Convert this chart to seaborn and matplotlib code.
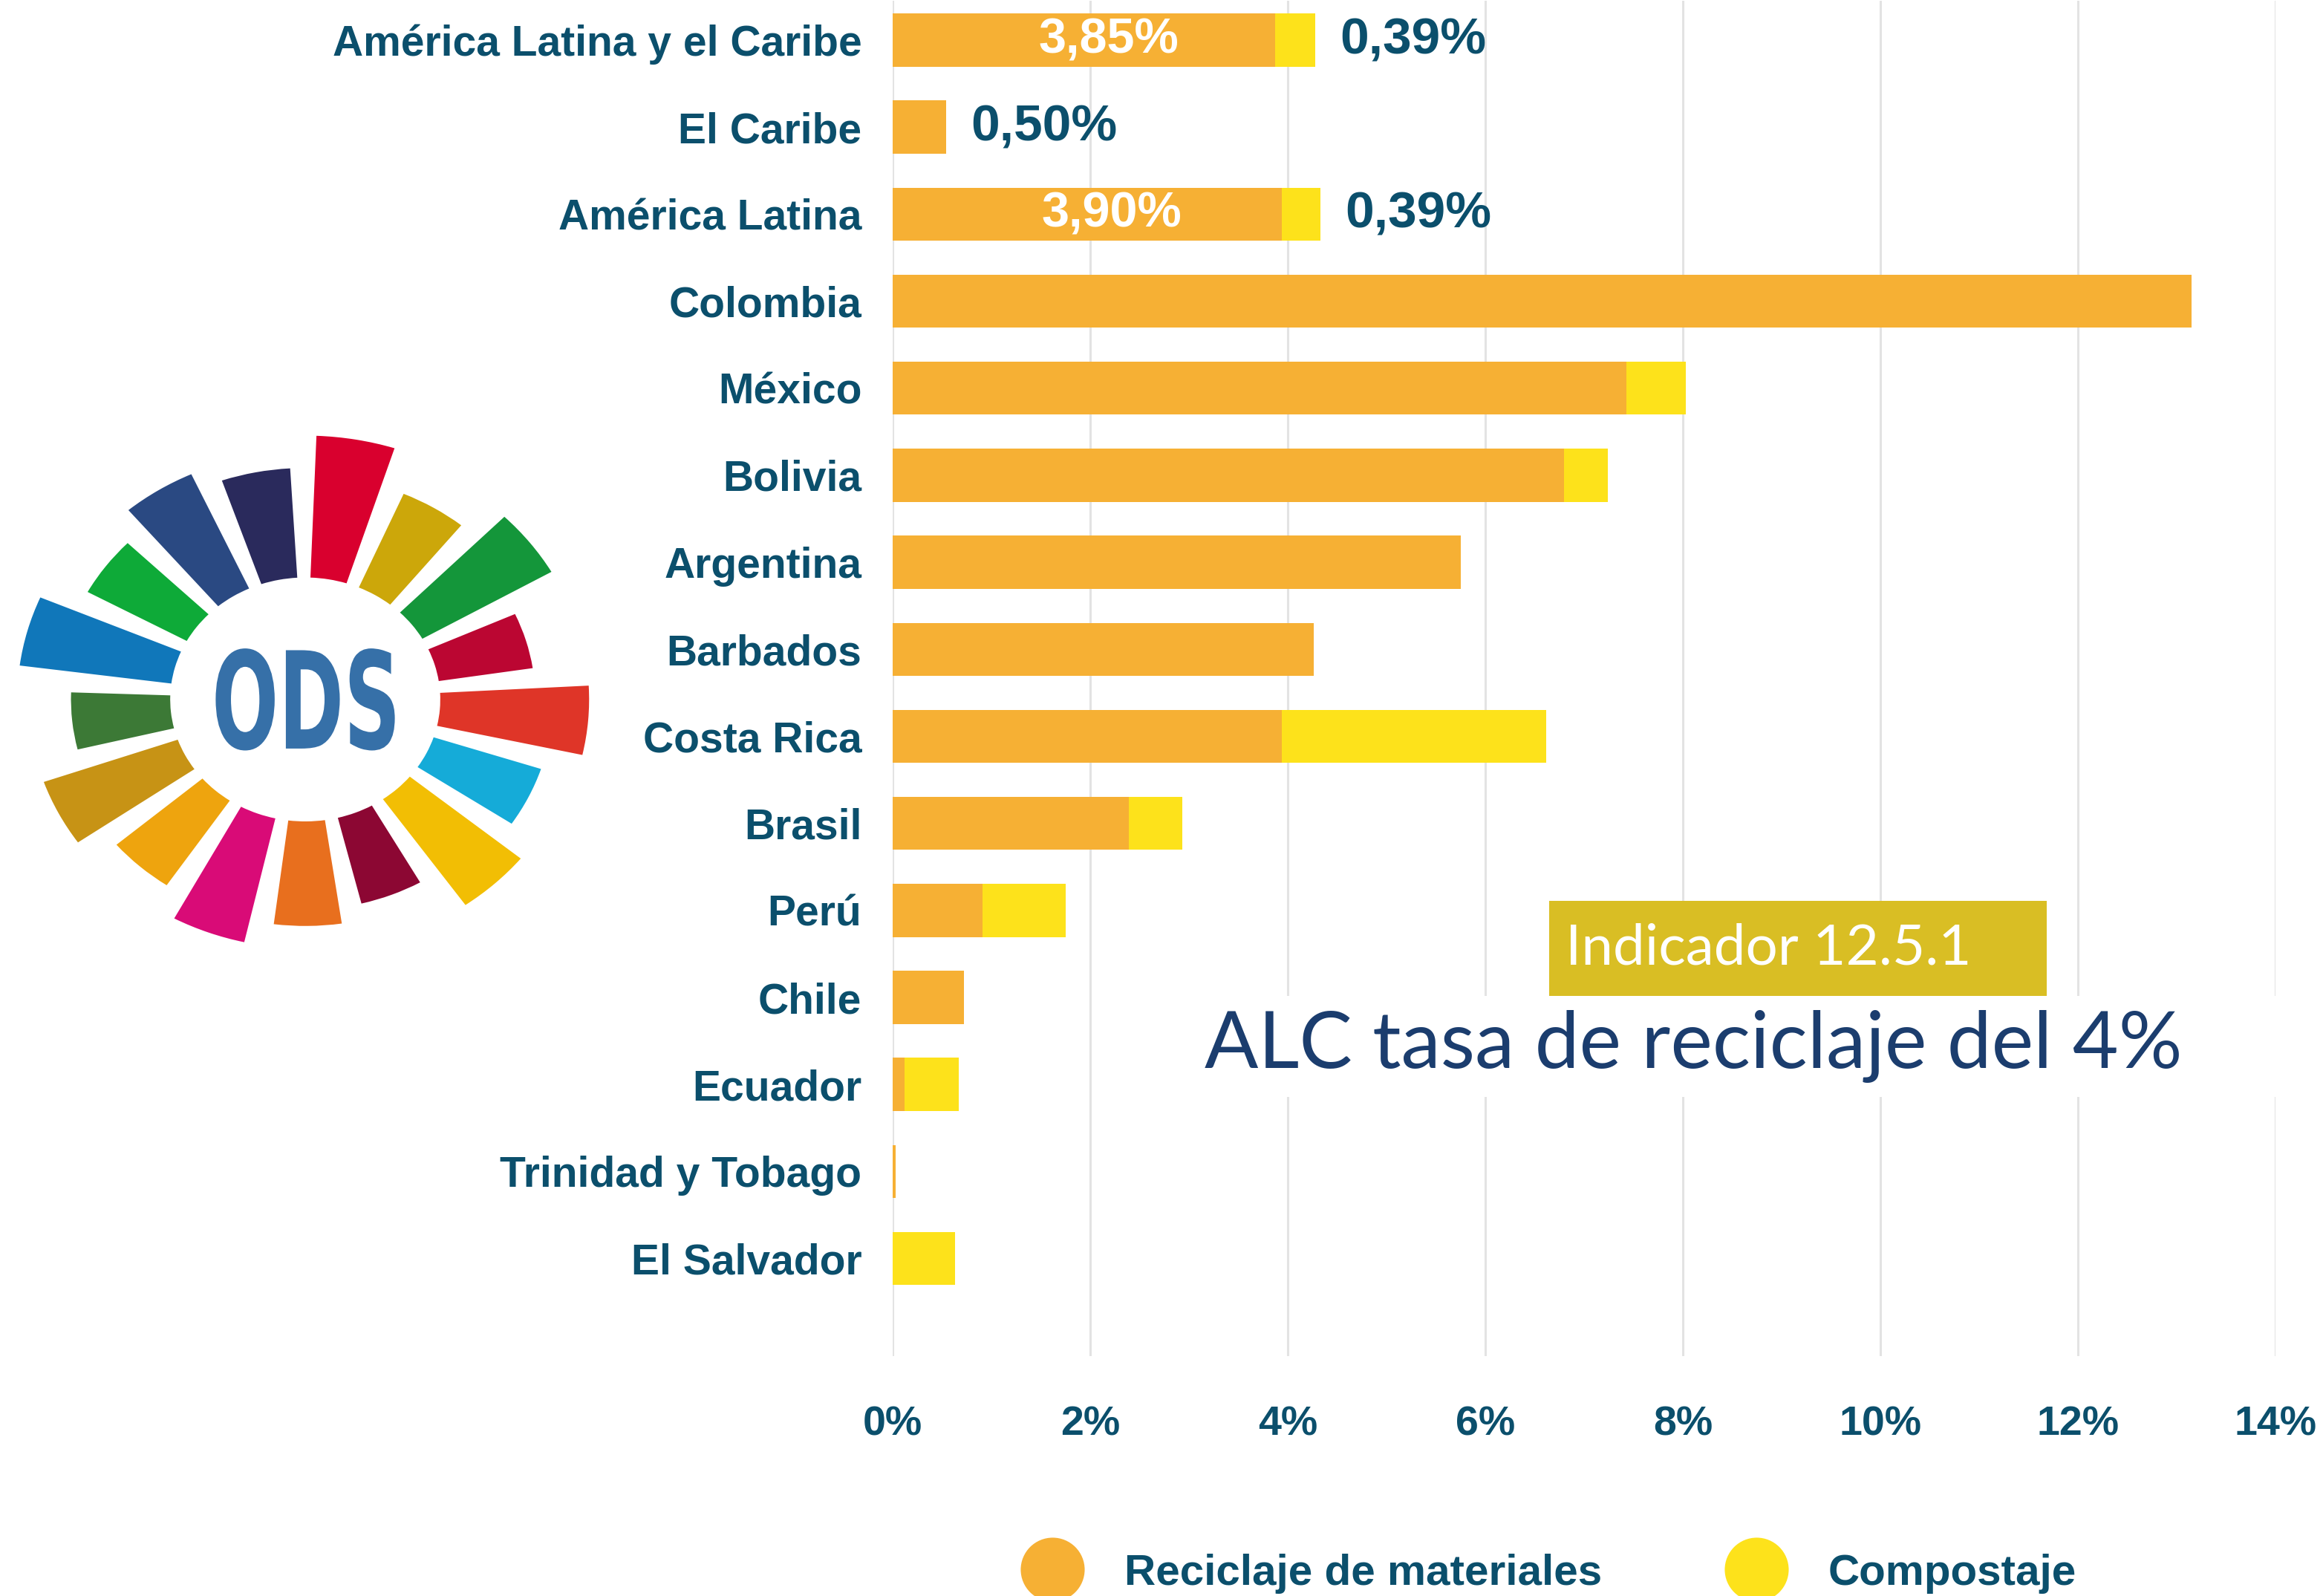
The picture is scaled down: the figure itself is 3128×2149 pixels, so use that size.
import numpy as np
import pandas as pd
import matplotlib
matplotlib.use('Agg')
import matplotlib.pyplot as plt
import seaborn as sns
from matplotlib.patches import Wedge, Rectangle, PathPatch
from matplotlib.textpath import TextPath
from matplotlib.font_manager import FontProperties
from matplotlib.lines import Line2D
from matplotlib.transforms import Affine2D

# datos
paises = ['América Latina y el Caribe', 'El Caribe', 'América Latina', 'Colombia', 'México',
          'Bolivia', 'Argentina', 'Barbados', 'Costa Rica', 'Brasil', 'Perú', 'Chile',
          'Ecuador', 'Trinidad y Tobago', 'El Salvador']
reciclaje = [3.87, 0.54, 3.94, 13.15, 7.43, 6.80, 5.75, 4.26, 3.94, 2.39, 0.91, 0.72, 0.12, 0.03, 0.0]
compostaje = [0.41, 0.0, 0.39, 0.0, 0.60, 0.44, 0.0, 0.0, 2.68, 0.54, 0.84, 0.0, 0.55, 0.0, 0.63]
etiqueta_dentro = ['3,85%', '', '3,90%'] + [''] * 12
etiqueta_fuera = ['0,39%', '0,50%', '0,39%'] + [''] * 12
ticks = [0, 2, 4, 6, 8, 10, 12, 14]
tick_labels = ['0%', '2%', '4%', '6%', '8%', '10%', '12%', '14%']
series = ['Reciclaje de materiales', 'Compostaje']

# logo ODS
ods_colores = ['#D9002E', '#CCA70A', '#14963A', '#BB0632', '#DF3528', '#15ABD8', '#F2BE04',
               '#8C0733', '#E86F1E', '#D90B77', '#EEA40E', '#C79315', '#3C7936', '#1077BA',
               '#0EAA38', '#2A4982', '#2A2A5C']
ods_radios = [2.12, 1.80, 2.06, 1.67, 2.06, 1.80, 2.02, 1.69, 1.82, 2.0, 1.80, 2.01, 1.70,
              2.09, 1.80, 1.99, 1.86]

naranja = '#F6B034'
amarillo = '#FDE21B'
texto = '#0B4F6C'

df = pd.DataFrame({'pais': paises, 'reciclaje': reciclaje, 'compostaje': compostaje})
df['total'] = df['reciclaje'] + df['compostaje']

sns.set_style('white')
plt.rcParams['font.family'] = ['Liberation Sans', 'DejaVu Sans']

fig = plt.figure(figsize=(15.64, 10.745), dpi=200)
ax = fig.add_axes([0.3843, 0.1504, 0.5952, 0.849])

sns.barplot(data=df, y='pais', x='total', color=amarillo, orient='h', width=0.61,
            saturation=1, errorbar=None, linewidth=0, edgecolor='none', ax=ax)
sns.barplot(data=df, y='pais', x='reciclaje', color=naranja, orient='h', width=0.61,
            saturation=1, errorbar=None, linewidth=0, edgecolor='none', ax=ax)

ax.set_xlim(0, 14)
ax.set_ylim(14 + 1.12, -0.45)
ax.set_xlabel('')
ax.set_ylabel('')
ax.xaxis.grid(True, color='#e3e3e3', lw=1.1)
ax.yaxis.grid(False)
ax.set_axisbelow(True)
for s in ax.spines.values():
    s.set_visible(False)
ax.set_xticks(ticks)
ax.set_xticklabels(tick_labels, fontsize=20, fontweight='bold', color=texto)
ax.tick_params(axis='x', length=0, pad=24)
ax.tick_params(axis='y', length=0, pad=15)
for lab in ax.get_yticklabels():
    lab.set_fontsize(20.5)
    lab.set_fontweight('bold')
    lab.set_color(texto)

for i in range(len(paises)):
    if etiqueta_dentro[i]:
        ax.text(reciclaje[i] / 2 + 0.25, i, etiqueta_dentro[i], color='white', fontsize=24,
                fontweight='bold', ha='center', va='center')
    if etiqueta_fuera[i]:
        ax.text(reciclaje[i] + compostaje[i] + 0.25, i, etiqueta_fuera[i], color=texto,
                fontsize=25, fontweight='bold', ha='left', va='center')

# leyenda
handles = [Line2D([], [], marker='o', ls='', markersize=31, markerfacecolor=c, markeredgewidth=0)
           for c in [naranja, amarillo]]
fig.legend(handles, series, loc='center', bbox_to_anchor=(0.666, 0.014), ncol=2, frameon=False,
           prop={'size': 21, 'weight': 'bold'}, labelcolor=texto, handlelength=1.6,
           handletextpad=0.86, columnspacing=2.76, borderpad=0)

# recuadros de texto
fig.add_artist(Rectangle((0.4974, 0.3129), 0.4876, 0.0631, transform=fig.transFigure,
                         facecolor='white', edgecolor='none', zorder=2))
fig.add_artist(Rectangle((0.667, 0.376), 0.214, 0.0595, transform=fig.transFigure,
                         facecolor='#D9BE24', edgecolor='none', zorder=2))
fig.text(0.674, 0.4058, 'Indicador 12.5.1', color='white', fontsize=27.5, family=['Lato', 'DejaVu Sans'],
         va='center', ha='left', zorder=3)
fig.text(0.729, 0.3445, 'ALC tasa de reciclaje del 4%', color='#1B3D6E', fontsize=38.5,
         family=['Lato', 'DejaVu Sans'], fontweight='normal', va='center', ha='center', zorder=3)

# logo
ax_logo = fig.add_axes([0.0009, 0.3902, 0.261, 0.3431])
ax_logo.set_xlim(-2.2, 2.2)
ax_logo.set_ylim(-2.2, 2.2)
ax_logo.axis('off')
for k, (c, r) in enumerate(zip(ods_colores, ods_radios)):
    centro = 80 - k * 360 / 17
    ax_logo.add_patch(Wedge((0, 0), r, centro - 7.8, centro + 7.8, width=r - 0.98,
                            facecolor=c, edgecolor='none'))
tp = TextPath((0, 0), 'ODS', size=1, prop=FontProperties(family='DejaVu Sans', weight='bold'))
bb = tp.get_extents()
tr = Affine2D().translate(-bb.x0 - bb.width / 2, -bb.y0 - bb.height / 2).scale(1.30 / bb.width, 0.82 / bb.height)
ax_logo.add_patch(PathPatch(tr.transform_path(tp), facecolor='#3670A8', lw=0))

fig.savefig('out.png', dpi=200)
